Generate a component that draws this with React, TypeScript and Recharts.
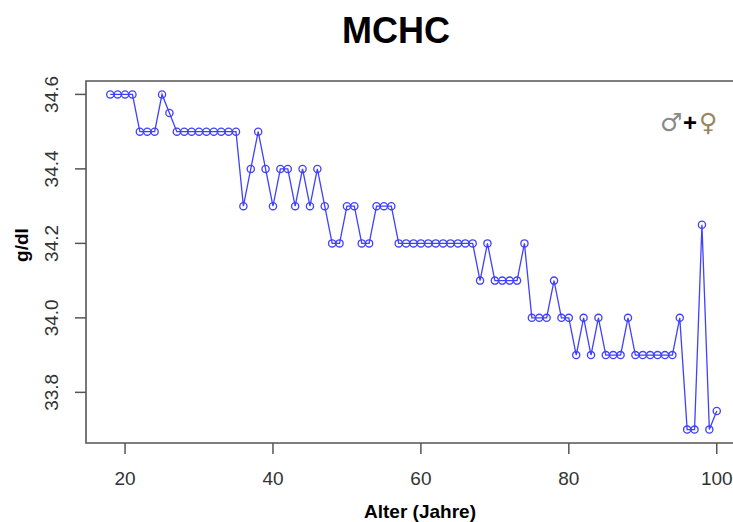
import { LineChart, Line, XAxis, YAxis, ReferenceArea } from 'recharts';

// Alter (Jahre)
const ages = [
  18, 19, 20, 21, 22, 23, 24, 25, 26, 27, 28, 29, 30, 31, 32, 33, 34, 35, 36, 37,
  38, 39, 40, 41, 42, 43, 44, 45, 46, 47, 48, 49, 50, 51, 52, 53, 54, 55, 56, 57,
  58, 59, 60, 61, 62, 63, 64, 65, 66, 67, 68, 69, 70, 71, 72, 73, 74, 75, 76, 77,
  78, 79, 80, 81, 82, 83, 84, 85, 86, 87, 88, 89, 90, 91, 92, 93, 94, 95, 96, 97,
  98, 99, 100,
];

// MCHC in g/dl
const mchc = [
  34.6, 34.6, 34.6, 34.6, 34.5, 34.5, 34.5, 34.6, 34.55, 34.5, 34.5, 34.5, 34.5, 34.5, 34.5, 34.5, 34.5, 34.5, 34.3, 34.4,
  34.5, 34.4, 34.3, 34.4, 34.4, 34.3, 34.4, 34.3, 34.4, 34.3, 34.2, 34.2, 34.3, 34.3, 34.2, 34.2, 34.3, 34.3, 34.3, 34.2,
  34.2, 34.2, 34.2, 34.2, 34.2, 34.2, 34.2, 34.2, 34.2, 34.2, 34.1, 34.2, 34.1, 34.1, 34.1, 34.1, 34.2, 34.0, 34.0, 34.0,
  34.1, 34.0, 34.0, 33.9, 34.0, 33.9, 34.0, 33.9, 33.9, 33.9, 34.0, 33.9, 33.9, 33.9, 33.9, 33.9, 33.9, 34.0, 33.7, 33.7,
  34.25, 33.7, 33.75,
];

const xTicks = [20, 40, 60, 80, 100];
const yTicks = [33.8, 34.0, 34.2, 34.4, 34.6];

const data = ages.map((age, i) => ({ age, mchc: mchc[i] }));

const FONT = '"Liberation Sans", Arial, Helvetica, sans-serif';
const SYM_FONT = '"DejaVu Sans", sans-serif';
const BLUE = '#4040ff';
const FRAME = '#555';
const X_DOMAIN: [number, number] = [14.72, 103.28];
const Y_DOMAIN: [number, number] = [33.664, 34.636];

const XTick = (props: any) => (
  <text x={props.x} y={485} textAnchor="middle" fontSize={19} fontFamily={FONT} fill="#333">
    {props.payload.value}
  </text>
);

const YTick = (props: any) => (
  <text
    x={58}
    y={props.y}
    transform={`rotate(-90, 58, ${props.y})`}
    textAnchor="middle"
    fontSize={19}
    fontFamily={FONT}
    fill="#333"
  >
    {Number(props.payload.value).toFixed(1)}
  </text>
);

export default function App() {
  return (
    <div style={{ position: 'absolute', left: 0, top: 0, width: 733, height: 522, overflow: 'hidden', background: '#fff' }}>
      <LineChart width={760} height={522} data={data} margin={{ top: 81, right: 19, bottom: 0, left: 0 }}>
        <XAxis
          type="number"
          dataKey="age"
          domain={X_DOMAIN}
          allowDataOverflow
          ticks={xTicks}
          height={79}
          axisLine={false}
          tickSize={11}
          tickLine={{ stroke: FRAME, strokeWidth: 1.5 }}
          tick={<XTick />}
        />
        <YAxis
          type="number"
          domain={Y_DOMAIN}
          allowDataOverflow
          ticks={yTicks}
          width={86}
          axisLine={false}
          tickSize={11}
          tickLine={{ stroke: FRAME, strokeWidth: 1.5 }}
          tick={<YTick />}
        />
        <ReferenceArea
          x1={X_DOMAIN[0]}
          x2={X_DOMAIN[1]}
          y1={Y_DOMAIN[0]}
          y2={Y_DOMAIN[1]}
          fill="none"
          stroke={FRAME}
          strokeWidth={1.6}
          ifOverflow="visible"
        />
        <Line
          type="linear"
          dataKey="mchc"
          stroke={BLUE}
          strokeWidth={1.3}
          dot={{ r: 3.6, stroke: BLUE, strokeWidth: 1.3, fill: 'none' }}
          isAnimationActive={false}
        />
      </LineChart>
      <svg width={733} height={522} style={{ position: 'absolute', left: 0, top: 0, pointerEvents: 'none' }}>
        <text x={396} y={43} textAnchor="middle" fontSize={36} fontWeight="bold" fontFamily={FONT} fill="#000">
          MCHC
        </text>
        <text x={420} y={518} textAnchor="middle" fontSize={19} fontWeight="bold" fontFamily={FONT} fill="#000">
          Alter (Jahre)
        </text>
        <text
          x={28}
          y={245}
          transform="rotate(-90, 28, 245)"
          textAnchor="middle"
          fontSize={19}
          fontWeight="bold"
          fontFamily={FONT}
          fill="#000"
        >
          g/dl
        </text>
        <text x={660} y={131} fontSize={25} fontFamily={SYM_FONT} fill="#8a8a8a">♂</text>
        <text x={683} y={131} fontSize={24} fontWeight="bold" fontFamily={FONT} fill="#000">+</text>
        <text x={699} y={131} fontSize={25} fontFamily={SYM_FONT} fill="#9a8560">♀</text>
      </svg>
    </div>
  );
}
